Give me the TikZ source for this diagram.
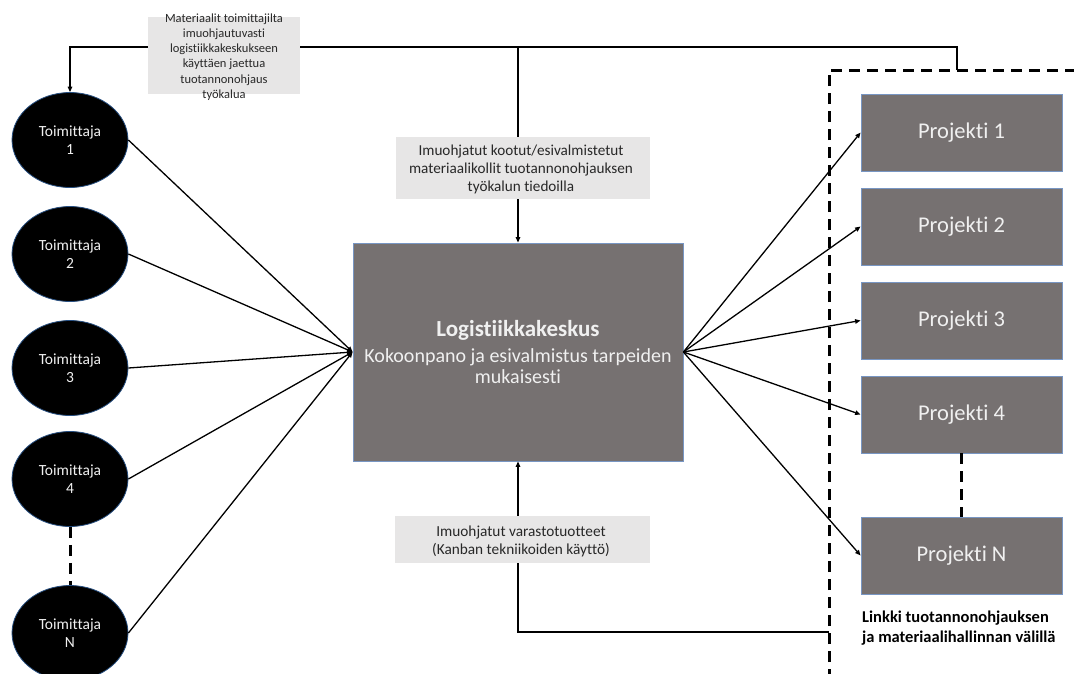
\documentclass[tikz,border=0pt]{standalone}
\usepackage{fontspec}
\setmainfont{Carlito}[Ligatures=NoCommon]
\usetikzlibrary{shapes.geometric,arrows.meta}
\definecolor{boxgray}{RGB}{118,113,113}
\definecolor{boxedge}{RGB}{120,150,195}
\definecolor{lblgray}{RGB}{231,230,230}
\definecolor{lbltext}{RGB}{40,40,40}
\definecolor{elledge}{RGB}{40,80,130}
\definecolor{lighttext}{RGB}{240,240,240}
\begin{document}
\begin{tikzpicture}[x=1pt,y=-1pt,
  supp/.style={ellipse, fill=black, draw=elledge, line width=0.8pt, minimum width=116, minimum height=95, inner sep=0pt, text=lighttext, align=center, font=\fontsize{15.5}{18.5}\selectfont},
  proj/.style={rectangle, fill=boxgray, draw=boxedge, line width=0.8pt, minimum width=201, minimum height=77, inner sep=0pt, text=lighttext, font=\fontsize{22.5}{26}\selectfont},
  hub/.style={rectangle, fill=boxgray, draw=boxedge, line width=0.8pt, minimum width=330, minimum height=218, inner sep=0pt, text=lighttext, align=center, font=\fontsize{20}{21.5}\selectfont},
  lblbox/.style={rectangle, fill=lblgray, draw=none, inner sep=0pt},
  lbltxt/.style={align=center, text=lbltext, inner sep=0pt},
  conn/.style={line width=1.3pt, -{Triangle[length=5.5pt,width=4.5pt]}},
  dashline/.style={line width=3pt, dash pattern=on 11pt off 7pt}
]
\useasboundingbox (0,0) rectangle (1074,673);
\clip (0,0) rectangle (1074,673);

% suppliers
\node[supp] (s1) at (70,140) {Toimittaja\\1};
\node[supp] (s2) at (70,254) {Toimittaja\\2};
\node[supp] (s3) at (70,368) {Toimittaja\\3};
\node[supp] (s4) at (70,479) {Toimittaja\\4};
\node[supp] (sN) at (70,633) {Toimittaja\\N};

% hub
\node[hub] (hub) at (518,352) {{\fontsize{23}{26}\selectfont\bfseries Logistiikkakeskus}\\[4pt]Kokoonpano  ja esivalmistus tarpeiden\\mukaisesti};

% projects
\node[proj] (p1) at (961.5,132.5) {Projekti 1};
\node[proj] (p2) at (961.5,226.5) {Projekti 2};
\node[proj] (p3) at (961.5,320.5) {Projekti 3};
\node[proj] (p4) at (961.5,414.5) {Projekti 4};
\node[proj] (pN) at (961.5,555.5) {Projekti N};

% coordinates
\coordinate (dtop) at (957,70);
\coordinate (tl) at (957,47);
\coordinate (bl) at (829,632);
\coordinate (dbl) at (829,680);
\coordinate (dtl) at (829,70);
\coordinate (dtr) at (1080,70);

% dashed frame
\draw[dashline] (dbl) -- (dtl) -- (dtr);
\draw[dashline] (s4.south) -- (sN.north);
\draw[dashline] (p4.south) -- (pN.north);

% top feedback
\draw[conn] (dtop) -- (tl) -| (s1.north);
\draw[conn] (hub.north |- tl) -- (hub.north);
% bottom feedback
\draw[conn] (bl) -| (hub.south);

% suppliers to hub
\foreach \s in {s1,s2,s3,s4,sN}
  \draw[conn] (\s.east) -- (hub.west);
% hub to projects
\foreach \p in {p1,p2,p3,p4,pN}
  \draw[conn] (hub.east) -- (\p.west);

% labels
\node[lblbox, minimum width=152, minimum height=77] (l1) at (224,55.5) {};
\node[lbltxt, font=\fontsize{12.5}{15.3}\selectfont] (t1) at (224,57) {Materiaalit toimittajilta\\imuohjautuvasti\\logistiikkakeskukseen\\käyttäen jaettua\\tuotannonohjaus\\työkalua};

\node[lblbox, minimum width=254, minimum height=62] (l2) at (523,168) {};
\node[lbltxt, font=\fontsize{15.2}{18}\selectfont] (t2) at (521,169) {Imuohjatut kootut/esivalmistetut\\materiaalikollit tuotannonohjauksen\\työkalun tiedoilla};

\node[lblbox, minimum width=255, minimum height=47] (l3) at (522.5,539.5) {};
\node[lbltxt, font=\fontsize{15.3}{18}\selectfont] (t3) at (521,541) {Imuohjatut varastotuotteet\\(Kanban tekniikoiden käyttö)};

% link text
\node[anchor=north west, align=left, inner sep=0pt, font=\fontsize{16.5}{20}\selectfont\bfseries] (lk) at (862,611) {Linkki tuotannonohjauksen\\ja materiaalihallinnan välillä};
\end{tikzpicture}
\end{document}
